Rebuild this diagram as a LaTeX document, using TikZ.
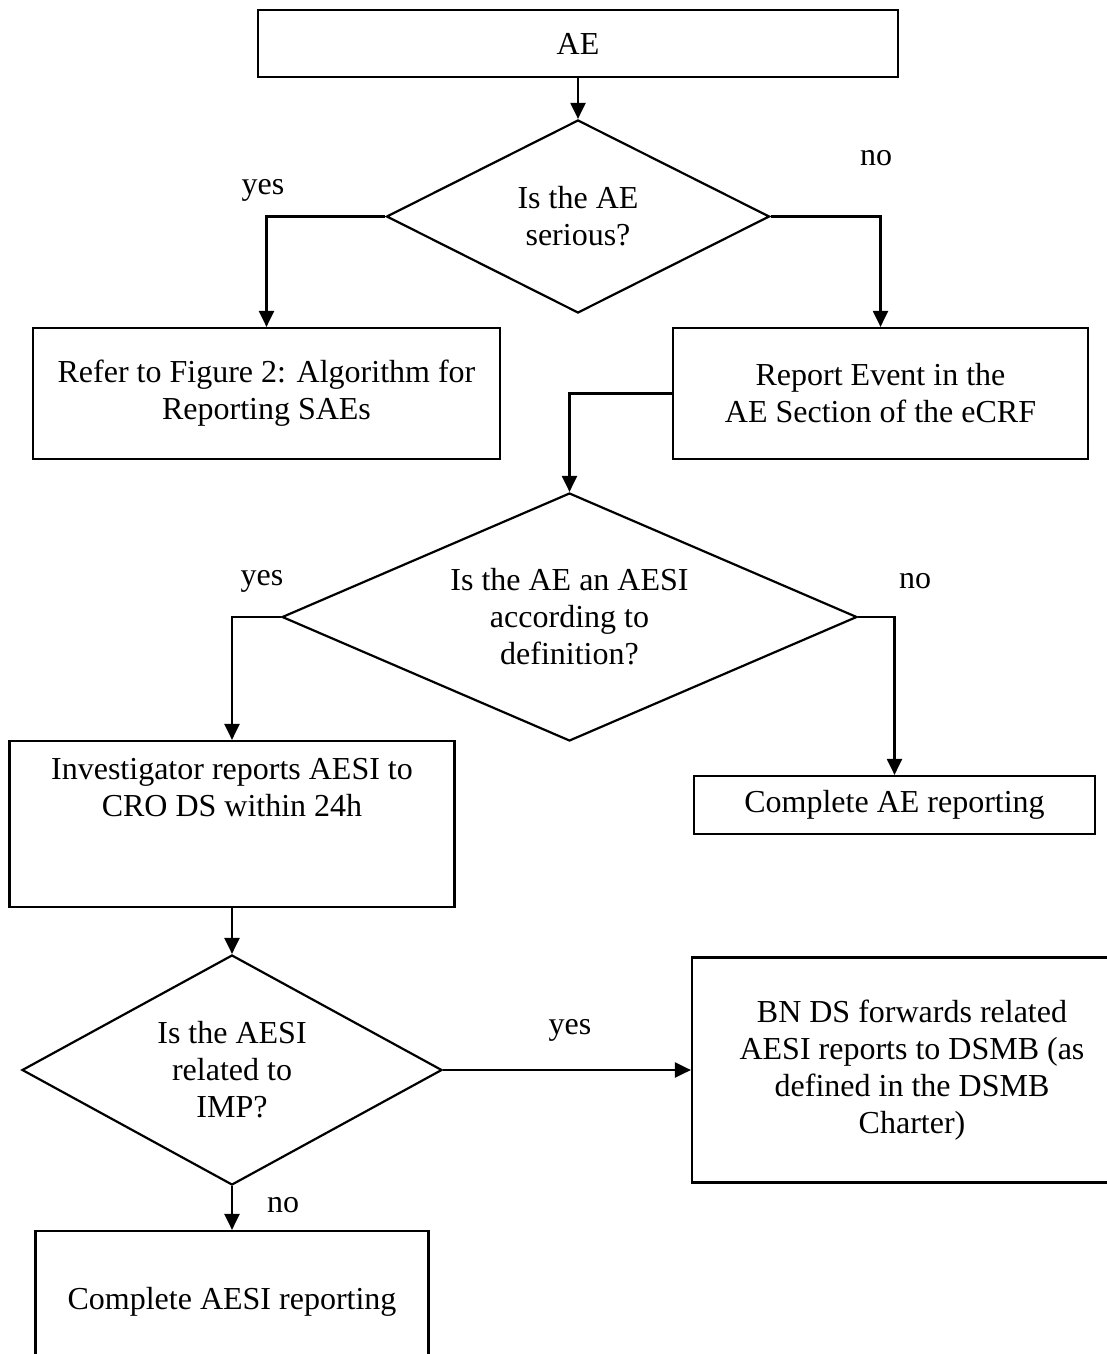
\documentclass[tikz,border=0pt]{standalone}
\usepackage{fontspec}
\setmainfont{Liberation Serif}
\usetikzlibrary{shapes.geometric,arrows.meta,positioning,calc}
\tikzstyle{block} = [rectangle, draw, text centered, align=center, inner sep=2pt]
\tikzstyle{decision} = [diamond, draw, align=center, inner sep=0pt]
\tikzstyle{answer} = [inner sep=0pt]

\begin{document}
\begin{tikzpicture}[x=0.5pt, y=-0.5pt, line width=1.1pt, >={Triangle[length=8pt,width=7.5pt]},
    font=\fontsize{16}{18.5}\selectfont]
    \useasboundingbox (0,0) rectangle (1107,1354);
    \clip (0,0) rectangle (1107,1354);

    % top part
    \node[block, minimum width=320pt, minimum height=33.5pt] (ae) at (578,43.5) {AE};
    \node[decision, aspect=2, minimum width=191.5pt, minimum height=96.5pt] (q1) at (578,216.5) {Is the AE\\serious?};
    \node[block, minimum width=233.5pt, minimum height=65.5pt] (sae) at (266.5,393.5) {Refer to Figure 2: Algorithm for\\Reporting SAEs};
    \node[block, minimum width=207.5pt, minimum height=65.5pt] (ecrf) at (880.5,393.5) {Report Event in the\\AE Section of the eCRF};

    % AESI question
    \node[decision, aspect=2.3, minimum width=287.5pt, minimum height=124pt] (q2) at (569.5,617) {Is the AE an AESI\\according to\\definition?};
    \node[block, minimum width=222.5pt, minimum height=83pt] (inv) at (232,824) {Investigator reports AESI to\\CRO DS within 24h\\\mbox{}\\\mbox{}};
    \node[block, minimum width=200.5pt, minimum height=29pt] (aerep) at (894.5,805) {Complete AE reporting};

    % relation to IMP
    \node[decision, aspect=1.83, minimum width=210pt, minimum height=115pt] (q3) at (232,1070) {Is the AESI\\related to\\IMP?};
    \node[block, minimum width=220pt, minimum height=112.5pt] (bn) at (912,1070) {BN DS forwards related\\AESI reports to DSMB (as\\defined in the DSMB\\Charter)};
    \node[block, minimum width=196.5pt, minimum height=71pt] (aesi) at (232,1302) {Complete AESI reporting};

    \node[answer] (yes1) at (263,190) {yes};
    \node[answer] (no1) at (876,158) {no};
    \node[answer] (yes2) at (262,581) {yes};
    \node[answer] (no2) at (915,581) {no};
    \node[answer] (yes3) at (570,1030) {yes};
    \node[answer] (no3) at (283,1205) {no};

    \draw[->] (ae) -- (q1);
    \draw[->] (q1.west) -| (sae.north);
    \draw[->] (q1.east) -| (ecrf.north);
    \draw[->] (ecrf.west) -| (q2.north);
    \draw[->] (q2.west) -| (inv.north);
    \draw[->] (q2.east) -| (aerep.north);
    \draw[->] (inv) -- (q3);
    \draw[->] (q3) -- (bn);
    \draw[->] (q3) -- (aesi);
\end{tikzpicture}
\end{document}
